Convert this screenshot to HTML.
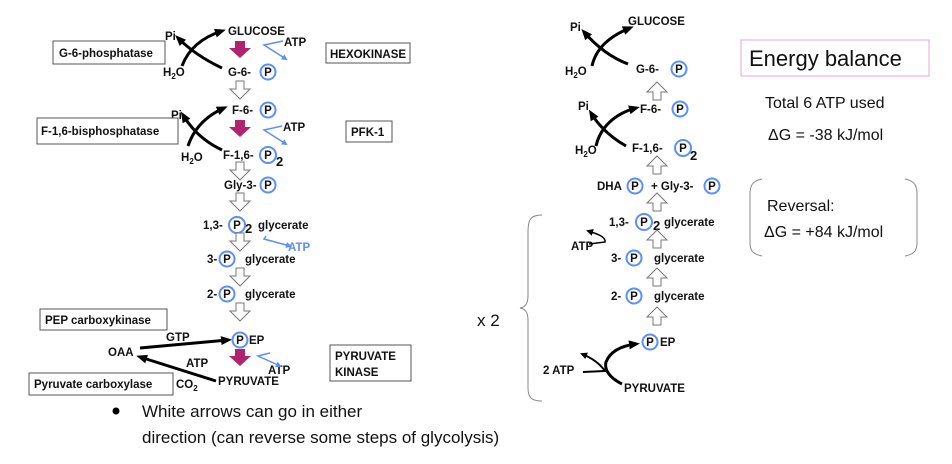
<!DOCTYPE html>
<html><head><meta charset="utf-8"><style>
body{margin:0;background:#fff;}
svg{display:block;}
.b{font-family:"Liberation Sans",sans-serif;font-weight:bold;font-size:11.5px;fill:#111;}
.r{font-family:"Liberation Sans",sans-serif;fill:#111;}
</style></head><body>
<svg width="952" height="464" viewBox="0 0 952 464" xmlns="http://www.w3.org/2000/svg">
<defs>
<marker id="ak" markerWidth="7" markerHeight="7" refX="5" refY="3.5" orient="auto" markerUnits="userSpaceOnUse" viewBox="0 0 7 7"><path d="M0,0 L7,3.5 L0,7 z" fill="#000"/></marker>
<marker id="ab" markerWidth="6" markerHeight="6" refX="4" refY="3" orient="auto" markerUnits="userSpaceOnUse" viewBox="0 0 6 6"><path d="M0,0 L6,3 L0,6 z" fill="#5b8ff9"/></marker>
<marker id="akl" markerWidth="11" markerHeight="9" refX="7" refY="4.5" orient="auto" markerUnits="userSpaceOnUse" viewBox="0 0 11 9"><path d="M0,0 L11,4.5 L0,9 z" fill="#000"/></marker>
<g id="wd"><path d="M-4,0 h8 v8 h6 l-10,10 l-10,-10 h6 z" fill="#fff" stroke="#777" stroke-width="1"/></g>
<g id="wu"><path d="M-4,18 h8 v-8 h6 l-10,-10 l-10,10 h6 z" fill="#fff" stroke="#777" stroke-width="1"/></g>
<g id="mg"><path d="M-5,0 h10 v7 h6 l-11,10 l-11,-10 h6 z" fill="#b0246e"/></g>
</defs>

<!-- LEFT -->
<g class="b">
<text x="228" y="35">GLUCOSE</text>
<text x="165" y="40">Pi</text>
<text x="163" y="76">H<tspan font-size="8" dy="3">2</tspan><tspan dy="-3">O</tspan></text>
<text x="228" y="76">G-6-</text>
<text x="232" y="114">F-6-</text>
<text x="171" y="119">Pi</text>
<text x="181" y="161">H<tspan font-size="8" dy="3">2</tspan><tspan dy="-3">O</tspan></text>
<text x="223" y="159">F-1,6-</text>
<text x="276" y="166" font-size="13">2</text>
<text x="224" y="189">Gly-3-</text>
<text x="203" y="229">1,3-</text>
<text x="245" y="233" font-size="13">2</text>
<text x="258" y="229">glycerate</text>
<text x="207" y="263">3-</text>
<text x="245" y="263">glycerate</text>
<text x="207" y="298">2-</text>
<text x="245" y="298">glycerate</text>
<text x="249" y="344">EP</text>
<text x="166" y="341">GTP</text>
<text x="108" y="356">OAA</text>
<text x="186" y="367">ATP</text>
<text x="176" y="388">CO<tspan font-size="8" dy="3">2</tspan></text>
<text x="218" y="385">PYRUVATE</text>
<text x="284" y="46">ATP</text>
<text x="283" y="131">ATP</text>
<text x="288" y="251" fill="#5b8ff9">ATP</text>
<text x="268" y="374">ATP</text>
</g>
<g fill="none" stroke="#5b8ff9" stroke-width="2">
<circle cx="268" cy="72" r="7.5"/><circle cx="268" cy="110" r="7.5"/><circle cx="268" cy="155" r="8"/>
<circle cx="268" cy="185" r="7.5"/><circle cx="237" cy="225" r="8"/><circle cx="227" cy="259" r="7.5"/>
<circle cx="227" cy="294" r="7.5"/><circle cx="240" cy="340" r="7.5"/>
</g>
<g class="b" text-anchor="middle" font-size="10">
<text x="268" y="76">P</text><text x="268" y="114">P</text><text x="268" y="159">P</text><text x="268" y="189">P</text>
<text x="237" y="229">P</text><text x="227" y="263">P</text><text x="227" y="298">P</text><text x="240" y="344">P</text>
</g>
<g fill="none" stroke="#5b8ff9" stroke-width="1.5">
<path d="M283,41 L264,45 L286,59" marker-end="url(#ab)"/>
<path d="M282,126 L264,130 L286,144" marker-end="url(#ab)"/>
<path d="M266,236 L264,239 L290,246" marker-end="url(#ab)"/>
<path d="M270,353 L258,356 L280,366" marker-end="url(#ab)"/>
</g>
<g fill="none" stroke="#000" stroke-width="3">
<path d="M222,68 C205,60 190,50 178,38" marker-end="url(#akl)"/>
<path d="M182,66 C188,50 200,38 222,31" marker-end="url(#akl)"/>
<path d="M222,150 C205,142 192,130 183,115" marker-end="url(#akl)"/>
<path d="M188,146 C194,128 206,116 224,108" marker-end="url(#akl)"/>
<path d="M140,348 L228,340" marker-end="url(#akl)"/>
<path d="M216,381 L140,357" marker-end="url(#akl)"/>
</g>
<use href="#mg" x="240" y="41"/><use href="#mg" x="240" y="120"/><use href="#mg" x="240" y="349"/>
<use href="#wd" x="240" y="81"/><use href="#wd" x="240" y="162"/><use href="#wd" x="240" y="193"/>
<use href="#wd" x="240" y="233"/><use href="#wd" x="240" y="268"/><use href="#wd" x="240" y="303"/>
<g fill="#fff" stroke="#555" stroke-width="1">
<rect x="53" y="41" width="112" height="23"/><rect x="326" y="43" width="84" height="20"/>
<rect x="37" y="118" width="141" height="26"/><rect x="346" y="121" width="46" height="21"/>
<rect x="40" y="309" width="127" height="21"/><rect x="330" y="345" width="81" height="36"/>
<rect x="29" y="373" width="144" height="22"/>
</g>
<g class="b">
<text x="59" y="57">G-6-phosphatase</text><text x="330" y="58">HEXOKINASE</text>
<text x="41" y="135">F-1,6-bisphosphatase</text><text x="351" y="136">PFK-1</text>
<text x="45" y="324">PEP carboxykinase</text><text x="335" y="360">PYRUVATE</text><text x="335" y="376">KINASE</text>
<text x="34" y="388">Pyruvate carboxylase</text>
</g>
<circle cx="116" cy="411" r="3.5" fill="#000"/>
<text class="r" x="142" y="417" font-size="17">White arrows can go in either</text>
<text class="r" x="142" y="443" font-size="17">direction (can reverse some steps of glycolysis)</text>

<!-- RIGHT -->
<g class="b">
<text x="628" y="25">GLUCOSE</text><text x="570" y="31">Pi</text>
<text x="565" y="75">H<tspan font-size="8" dy="3">2</tspan><tspan dy="-3">O</tspan></text>
<text x="636" y="73">G-6-</text>
<text x="578" y="110">Pi</text><text x="640" y="113">F-6-</text>
<text x="575" y="154">H<tspan font-size="8" dy="3">2</tspan><tspan dy="-3">O</tspan></text>
<text x="632" y="152">F-1,6-</text><text x="690" y="160" font-size="13">2</text>
<text x="597" y="190">DHA</text><text x="651" y="190">+ Gly-3-</text>
<text x="609" y="226">1,3-</text><text x="653" y="230" font-size="13">2</text><text x="664" y="226">glycerate</text>
<text x="571" y="250">ATP</text>
<text x="611" y="262">3-</text><text x="654" y="262">glycerate</text>
<text x="611" y="300">2-</text><text x="654" y="300">glycerate</text>
<text x="660" y="346">EP</text>
<text x="543" y="374">2 ATP</text><text x="624" y="392">PYRUVATE</text>
</g>
<g fill="none" stroke="#5b8ff9" stroke-width="2">
<circle cx="679" cy="69" r="7.5"/><circle cx="680" cy="109" r="7.5"/><circle cx="683" cy="148" r="8"/>
<circle cx="635" cy="186" r="7.5"/><circle cx="712" cy="186" r="7.5"/><circle cx="644" cy="222" r="8"/>
<circle cx="634" cy="258" r="7.5"/><circle cx="634" cy="296" r="7.5"/><circle cx="650" cy="342" r="7.5"/>
</g>
<g class="b" text-anchor="middle" font-size="10">
<text x="679" y="73">P</text><text x="680" y="113">P</text><text x="683" y="152">P</text><text x="635" y="190">P</text>
<text x="712" y="190">P</text><text x="644" y="226">P</text><text x="634" y="262">P</text><text x="634" y="300">P</text><text x="650" y="346">P</text>
</g>
<g fill="none" stroke="#000" stroke-width="3">
<path d="M628,64 C612,58 598,48 584,32" marker-end="url(#akl)"/>
<path d="M592,66 C596,48 610,36 630,28" marker-end="url(#akl)"/>
<path d="M626,146 C612,138 600,128 591,113" marker-end="url(#akl)"/>
<path d="M596,146 C600,128 614,114 636,108" marker-end="url(#akl)"/>
<path d="M622,384 C610,378 604,370 606,362 C610,352 620,346 636,344" marker-end="url(#akl)"/>
</g>
<g fill="none" stroke="#000">
<path d="M583,372 L605,371 C600,364 592,358 582,354" stroke-width="2" marker-end="url(#ak)"/>
<path d="M589,244 L605,242 C606,237 598,234 588,231" stroke-width="1.5" marker-end="url(#ak)"/>
</g>
<use href="#wu" x="657" y="82"/><use href="#wu" x="657" y="156"/><use href="#wu" x="657" y="193"/>
<use href="#wu" x="657" y="230"/><use href="#wu" x="657" y="268"/><use href="#wu" x="657" y="307"/>
<path d="M542,215 C530,215 528,220 528,232 L528,295 C528,303 526,307 520,308 C526,309 528,313 528,321 L528,388 C528,398 532,401 542,401" fill="none" stroke="#888" stroke-width="1"/>
<text class="r" x="477" y="326" font-size="17">x 2</text>

<rect x="741" y="40" width="188" height="36" fill="none" stroke="#e8a6d0" stroke-width="1"/>
<text class="r" x="749" y="66" font-size="22">Energy balance</text>
<text class="r" x="765" y="108" font-size="16">Total 6 ATP used</text>
<text class="r" x="768" y="140" font-size="16">ΔG = -38 kJ/mol</text>
<path d="M762,179 C752,181 750,186 750,194 L750,242 C750,250 752,254 762,256" fill="none" stroke="#888" stroke-width="1"/>
<path d="M905,179 C915,181 917,186 917,194 L917,242 C917,250 915,254 905,256" fill="none" stroke="#888" stroke-width="1"/>
<text class="r" x="767" y="211" font-size="16">Reversal:</text>
<text class="r" x="764" y="237" font-size="16">ΔG = +84 kJ/mol</text>
</svg>
</body></html>
